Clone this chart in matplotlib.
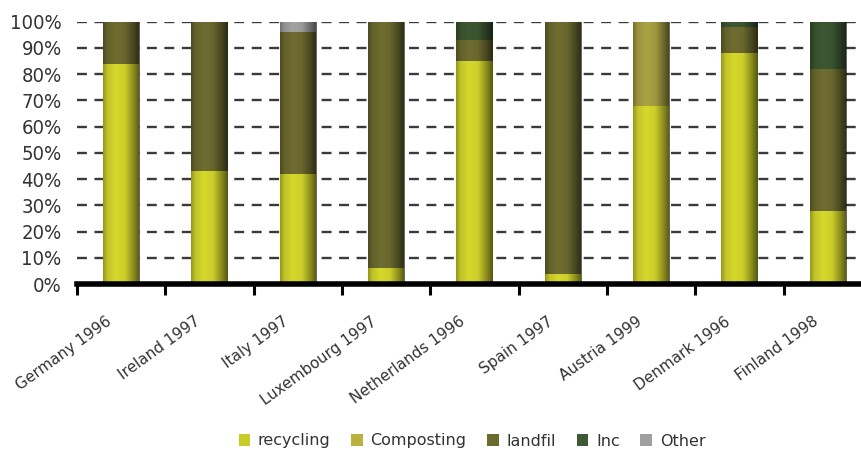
import numpy as np
import matplotlib
matplotlib.use("Agg")
import matplotlib.pyplot as plt
import matplotlib.transforms as mtransforms
from matplotlib.patches import Patch
from matplotlib import font_manager

# Municipal waste treatment shares per country (percent)
countries = ["Germany 1996", "Ireland 1997", "Italy 1997", "Luxembourg 1997",
             "Netherlands 1996", "Spain 1997", "Austria 1999", "Denmark 1996",
             "Finland 1998"]
recycling = [84, 43, 42, 6, 85, 4, 68, 88, 28]
composting = [0, 0, 0, 0, 0, 0, 32, 0, 0]
landfill = [16, 57, 54, 94, 8, 96, 0, 10, 54]
incineration = [0, 0, 0, 0, 7, 0, 0, 2, 18]
other = [0, 0, 4, 0, 0, 0, 0, 0, 0]

series_names = ["recycling", "Composting", "landfil", "Inc", "Other"]
series_values = [recycling, composting, landfill, incineration, other]
series_colors = ["#d6d82c", "#aaa242", "#6e6c30", "#3c5732", "#a2a2a2"]
legend_colors = ["#c8cc2a", "#b8b240", "#6a6a2e", "#3e5a36", "#a0a0a0"]

ytick_values = list(range(0, 101, 10))
ytick_labels = [f"{v}%" for v in ytick_values]

# condensed face for the percentage labels, if one is available
cond = [f for f in font_manager.fontManager.ttflist
        if "Condensed" in f.fname or "Narrow" in f.fname]
if cond:
    pick = cond[0].fname
    for f in cond:
        if "DejaVuSansCondensed.ttf" in f.fname:
            pick = f.fname
    yfont = font_manager.FontProperties(fname=pick, size=14.5)
else:
    yfont = font_manager.FontProperties(family="DejaVu Sans", size=13)

fig = plt.figure(figsize=(8.61, 4.5), dpi=100)
ax = fig.add_axes([77 / 861, 1 - 284 / 450, 795 / 861, 262.3 / 450])

n = len(countries)
centers = np.arange(n) + 0.5
bar_w = 0.41

# shading profile to give the bars a rounded, cylindrical look
prof_x = np.linspace(0, 1, 64)
shade = np.interp(prof_x, [0, 0.12, 0.35, 0.6, 0.85, 1.0],
                  [0.30, 0.10, 0.0, 0.05, 0.38, 0.6])
shade_img = np.zeros((1, 64, 4))
shade_img[..., 3] = shade

bottom = np.zeros(n)
for name, vals, col in zip(series_names, series_values, series_colors):
    vals = np.asarray(vals, dtype=float)
    bars = ax.bar(centers, vals, bar_w, bottom=bottom, color=col,
                  edgecolor="none", zorder=3, label=name)
    for rect, v in zip(bars, vals):
        if v <= 0:
            continue
        x0, y0 = rect.get_x(), rect.get_y()
        im = ax.imshow(shade_img, extent=(x0, x0 + rect.get_width(), y0, y0 + v),
                       aspect="auto", interpolation="bilinear", zorder=4)
        im.set_clip_path(rect)
    bottom += vals

ax.set_xlim(0, n)
ax.set_ylim(0, 100)

# dashed horizontal gridlines
for v in ytick_values[1:]:
    ax.axhline(v, color="#3a3a3a", lw=1.7, ls=(0, (4.2, 3.2)), zorder=1)

ax.set_yticks(ytick_values)
ax.set_yticklabels(ytick_labels, fontproperties=yfont, color="#333333")
ax.tick_params(axis="y", length=0, pad=11)

ax.set_xticks(np.arange(n + 1))
ax.set_xticklabels([])
ax.tick_params(axis="x", direction="out", length=8, width=2.2, color="black")

for side in ["left", "right", "top"]:
    ax.spines[side].set_visible(False)
ax.spines["bottom"].set_linewidth(4)
ax.spines["bottom"].set_zorder(5)

# rotated category labels
base = mtransforms.blended_transform_factory(ax.transData, ax.transAxes)
offset = mtransforms.ScaledTranslation(-11 / 100, -36 / 100, fig.dpi_scale_trans)
for c, lab in zip(centers, countries):
    ax.text(c, 0, lab, transform=base + offset, rotation=36,
            rotation_mode="anchor", ha="right", va="center",
            fontsize=11, color="#333333", family="DejaVu Sans")

handles = [Patch(facecolor=c, edgecolor="none") for c in legend_colors]
fig.legend(handles, series_names, loc="center", bbox_to_anchor=(472 / 861, 1 - 441 / 450),
           ncol=5, frameon=False, fontsize=11.5, handlelength=0.7, handleheight=0.7,
           handletextpad=0.5, columnspacing=1.3, labelcolor="#333333")

fig.savefig("out.png", dpi=100)
